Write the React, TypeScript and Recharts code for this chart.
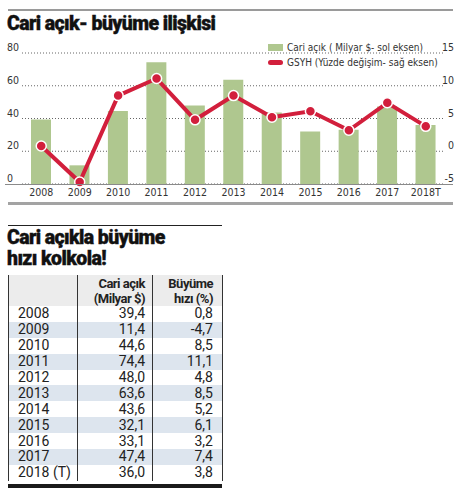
import React from "react";
import {
  ComposedChart,
  Bar,
  Line,
  XAxis,
  YAxis,
  CartesianGrid,
} from "recharts";

const years = ["2008", "2009", "2010", "2011", "2012", "2013", "2014", "2015", "2016", "2017", "2018T"];
const tableYears = ["2008", "2009", "2010", "2011", "2012", "2013", "2014", "2015", "2016", "2017", "2018 (T)"];
const cariAcik = [39.4, 11.4, 44.6, 74.4, 48.0, 63.6, 43.6, 32.1, 33.1, 47.4, 36.0];
const buyume = [0.8, -4.7, 8.5, 11.1, 4.8, 8.5, 5.2, 6.1, 3.2, 7.4, 3.8];
const leftTicks = [0, 20, 40, 60, 80];
const rightTicks = [-5, 0, 5, 10, 15];

const GREEN = "#afc78f";
const RED = "#d21f3c";
const FONT = "'Liberation Sans Narrow', 'DejaVu Sans Condensed', Roboto, sans-serif";
const TITLE_FONT = "Roboto, 'DejaVu Sans', sans-serif";

const data = years.map((y, i) => ({ year: y, cari: cariAcik[i], gsyh: buyume[i] }));

const fmt = (v: number) => v.toFixed(1).replace(".", ",");

const renderLeftTick = (props: any) => (
  <text key={"l" + props.index} x={7} y={props.y - 2} fontSize={10.5} fill="#333" fontFamily={FONT}>
    {props.payload.value}
  </text>
);

const renderRightTick = (props: any) => (
  <text key={"r" + props.index} x={454} y={props.y - 2} fontSize={10.5} fill="#333" textAnchor="end" fontFamily={FONT}>
    {props.payload.value}
  </text>
);

const abs = (s: React.CSSProperties): React.CSSProperties => ({ position: "absolute", ...s });

export default function App() {
  return (
    <div style={abs({ left: 0, top: 0, width: 466, height: 502, background: "#fff", fontFamily: FONT, color: "#222" })}>
      <div style={abs({ left: 8, top: 9, width: 445, height: 2, background: "#9a9a9a" })} />
      <div
        style={abs({
          left: 7,
          top: 12,
          fontFamily: TITLE_FONT,
          fontWeight: 900,
          fontSize: 19.5,
          letterSpacing: -0.6,
          color: "#111",
          whiteSpace: "nowrap",
          WebkitTextStroke: "0.4px #111",
        })}
      >
        Cari açık- büyüme ilişkisi
      </div>

      <div style={abs({ left: 0, top: 0 })}>
        <ComposedChart width={466} height={200} data={data} margin={{ top: 53, right: 20, bottom: 0, left: 21 }}>
          <CartesianGrid yAxisId="left" vertical={false} stroke="#666" strokeDasharray="1 2" />
          <XAxis
            dataKey="year"
            height={16}
            tickLine={false}
            axisLine={false}
            tickSize={3}
            tick={{ fontSize: 10.5, fill: "#333", fontFamily: FONT }}
            interval={0}
          />
          <YAxis
            yAxisId="left"
            width={1}
            domain={[0, 80]}
            ticks={leftTicks}
            interval={0}
            tickLine={false}
            axisLine={false}
            tick={renderLeftTick}
          />
          <YAxis
            yAxisId="right"
            orientation="right"
            width={1}
            domain={[-5, 15]}
            ticks={rightTicks}
            interval={0}
            tickLine={false}
            axisLine={false}
            tick={renderRightTick}
          />
          <Bar yAxisId="left" dataKey="cari" fill={GREEN} barSize={20} isAnimationActive={false} />
          <Line
            yAxisId="right"
            dataKey="gsyh"
            stroke={RED}
            strokeWidth={4}
            dot={{ r: 5, fill: RED, stroke: "#fff", strokeWidth: 1.5 }}
            activeDot={false}
            isAnimationActive={false}
          />
        </ComposedChart>
      </div>

      <div style={abs({ left: 5, top: 183.5, width: 448, height: 1, background: "#8a8a8a" })} />

      <div style={abs({ left: 268, top: 40, fontSize: 10, color: "#333", lineHeight: "15px" })}>
        <div style={{ display: "flex", alignItems: "center" }}>
          <span style={{ width: 15, height: 7, background: GREEN, marginRight: 4, display: "inline-block" }} />
          Cari açık ( Milyar $- sol eksen)
        </div>
        <div style={{ display: "flex", alignItems: "center" }}>
          <span style={{ width: 15, height: 5, borderRadius: 3, background: RED, marginRight: 4, display: "inline-block" }} />
          GSYH (Yüzde değişim- sağ eksen)
        </div>
      </div>

      <div style={abs({ left: 8, top: 202, width: 445, height: 3, background: "#a3a3a3" })} />

      <div style={abs({ left: 8, top: 225, width: 214, height: 1, background: "#222" })} />
      <div
        style={abs({
          left: 7,
          top: 227,
          fontFamily: TITLE_FONT,
          fontWeight: 900,
          fontSize: 19.5,
          letterSpacing: -0.6,
          lineHeight: "21px",
          color: "#111",
          WebkitTextStroke: "0.4px #111",
          whiteSpace: "nowrap",
        })}
      >
        Cari açıkla büyüme
        <br />
        hızı kolkola!
      </div>

      <table
        style={abs({
          left: 8,
          top: 275,
          width: 215,
          borderCollapse: "collapse",
          fontSize: 14,
          fontFamily: "Roboto, sans-serif",
          color: "#222",
        })}
      >
        <thead>
          <tr style={{ background: "#ececec", height: 31 }}>
            <th style={{ width: 66, borderLeft: "1px solid #333", borderRight: "1px solid #333" }} />
            <th
              style={{
                width: 67,
                textAlign: "right",
                padding: "0 7px 0 0",
                fontFamily: TITLE_FONT,
                fontSize: 13,
                fontWeight: 700,
                lineHeight: "15px",
                letterSpacing: -0.5,
                borderRight: "1px solid #333",
                whiteSpace: "nowrap",
              }}
            >
              Cari açık
              <br />
              (Milyar $)
            </th>
            <th
              style={{
                textAlign: "right",
                padding: "0 9px 0 0",
                fontFamily: TITLE_FONT,
                fontSize: 13,
                fontWeight: 700,
                lineHeight: "15px",
                letterSpacing: -0.5,
                borderRight: "1px solid #333",
                whiteSpace: "nowrap",
              }}
            >
              Büyüme
              <br />
              hızı (%)
            </th>
          </tr>
        </thead>
        <tbody>
          {tableYears.map((y, i) => (
            <tr key={y} style={{ background: i % 2 === 1 ? "#dde5ee" : "#fff", height: 15.9, lineHeight: "15px" }}>
              <td style={{ padding: "0 0 0 9px", borderLeft: "1px solid #333", borderRight: "1px solid #333" }}>{y}</td>
              <td style={{ textAlign: "right", padding: "0 7px 0 0", borderRight: "1px solid #333" }}>{fmt(cariAcik[i])}</td>
              <td style={{ textAlign: "right", padding: "0 9px 0 0", borderRight: "1px solid #333" }}>{fmt(buyume[i])}</td>
            </tr>
          ))}
        </tbody>
      </table>
      <div style={abs({ left: 8, top: 484, width: 214, height: 4, background: "#1a1a1a" })} />
    </div>
  );
}
